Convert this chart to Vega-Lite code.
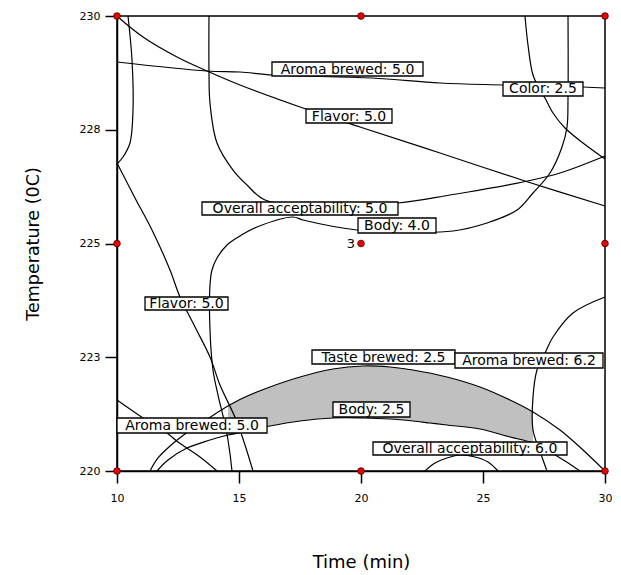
{
  "$schema": "https://vega.github.io/schema/vega-lite/v6.json",
  "width": 488,
  "height": 455,
  "autosize": "none",
  "padding": {"left": 117, "top": 16, "right": 16, "bottom": 104},
  "background": "white",
  "config": {
    "view": {"stroke": "black", "strokeWidth": 1.5},
    "axis": {
      "grid": false, "domainColor": "black", "domainWidth": 1.5,
      "tickColor": "black", "tickWidth": 1.5, "tickSize": 12,
      "labelColor": "black", "labelFont": "DejaVu Sans", "labelFontSize": 11,
      "titleFont": "DejaVu Sans", "titleFontWeight": "normal", "titleColor": "black",
      "labelFlush": false, "labelOverlap": false
    }
  },
  "datasets": {
    "lines": [
      {"c":"A","i":0,"t":10.041,"T":229.978},{"c":"A","i":1,"t":11.066,"T":229.538},{"c":"A","i":2,"t":12.459,"T":229.099},{"c":"A","i":3,"t":13.689,"T":228.791},{"c":"A","i":4,"t":15.041,"T":228.484},{"c":"A","i":5,"t":17.623,"T":227.978},{"c":"A","i":6,"t":19.959,"T":227.56},{"c":"A","i":7,"t":23.238,"T":226.989},{"c":"A","i":8,"t":26.844,"T":226.352},{"c":"A","i":9,"t":30,"T":225.824},
      {"c":"B","i":0,"t":10,"T":228.989},{"c":"B","i":1,"t":13.689,"T":228.791},{"c":"B","i":2,"t":15.041,"T":228.769},{"c":"B","i":3,"t":16.393,"T":228.703},{"c":"B","i":4,"t":20.451,"T":228.637},{"c":"B","i":5,"t":23.238,"T":228.527},{"c":"B","i":6,"t":25.82,"T":228.484},{"c":"B","i":7,"t":29.098,"T":228.44},{"c":"B","i":8,"t":30,"T":228.418},
      {"c":"C","i":0,"t":10.451,"T":230},{"c":"C","i":1,"t":10.615,"T":229.033},{"c":"C","i":2,"t":10.656,"T":227.934},{"c":"C","i":3,"t":10.533,"T":227.209},{"c":"C","i":4,"t":10.246,"T":226.901},{"c":"C","i":5,"t":10,"T":226.747},
      {"c":"D","i":0,"t":10,"T":226.769},{"c":"D","i":1,"t":10.738,"T":226.0},{"c":"D","i":2,"t":11.434,"T":225.297},{"c":"D","i":3,"t":12.172,"T":224.418},{"c":"D","i":4,"t":12.582,"T":223.824},{"c":"D","i":5,"t":13.197,"T":223.165},{"c":"D","i":6,"t":13.811,"T":222.505},{"c":"D","i":7,"t":14.221,"T":221.89},{"c":"D","i":8,"t":14.918,"T":221.077},{"c":"D","i":9,"t":15.574,"T":220},
      {"c":"E","i":0,"t":13.77,"T":230},{"c":"E","i":1,"t":13.77,"T":228.791},{"c":"E","i":2,"t":13.811,"T":228.088},{"c":"E","i":3,"t":14.098,"T":227.209},{"c":"E","i":4,"t":14.754,"T":226.615},{"c":"E","i":5,"t":15.328,"T":226.286},{"c":"E","i":6,"t":16.066,"T":225.956},{"c":"E","i":7,"t":18.73,"T":225.824},{"c":"E","i":8,"t":21.516,"T":225.89},{"c":"E","i":9,"t":23.648,"T":226.066},{"c":"E","i":10,"t":26.639,"T":226.352},{"c":"E","i":11,"t":28.156,"T":226.549},{"c":"E","i":12,"t":30,"T":226.923},
      {"c":"F","i":0,"t":28.484,"T":230},{"c":"F","i":1,"t":28.484,"T":228.22},{"c":"F","i":2,"t":28.443,"T":227.56},{"c":"F","i":3,"t":28.238,"T":227.121},{"c":"F","i":4,"t":27.746,"T":226.549},{"c":"F","i":5,"t":27.049,"T":226.11},{"c":"F","i":6,"t":26.393,"T":225.736},{"c":"F","i":7,"t":25.164,"T":225.451},{"c":"F","i":8,"t":23.77,"T":225.275},{"c":"F","i":9,"t":21.598,"T":225.253},{"c":"F","i":10,"t":19.836,"T":225.297},{"c":"F","i":11,"t":17.623,"T":225.516},{"c":"F","i":12,"t":17.213,"T":225.582},{"c":"F","i":13,"t":15.738,"T":225.363},{"c":"F","i":14,"t":15.041,"T":225.165},{"c":"F","i":15,"t":14.508,"T":224.967},{"c":"F","i":16,"t":14.098,"T":224.681},{"c":"F","i":17,"t":13.893,"T":224.418},{"c":"F","i":18,"t":13.811,"T":224.088},{"c":"F","i":19,"t":13.811,"T":223.099},{"c":"F","i":20,"t":13.934,"T":222.22},{"c":"F","i":21,"t":14.139,"T":221.67},{"c":"F","i":22,"t":14.385,"T":221.121},{"c":"F","i":23,"t":14.549,"T":220.681},{"c":"F","i":24,"t":14.713,"T":220},
      {"c":"G","i":0,"t":26.721,"T":230},{"c":"G","i":1,"t":26.844,"T":229.363},{"c":"G","i":2,"t":27.049,"T":228.703},{"c":"G","i":3,"t":27.336,"T":228.374},{"c":"G","i":4,"t":27.541,"T":228.198},{"c":"G","i":5,"t":27.869,"T":227.868},{"c":"G","i":6,"t":28.361,"T":227.538},{"c":"G","i":7,"t":29.098,"T":227.209},{"c":"G","i":8,"t":30,"T":226.857},
      {"c":"H","i":0,"t":11.352,"T":220},{"c":"H","i":1,"t":11.68,"T":220.286},{"c":"H","i":2,"t":12.172,"T":220.549},{"c":"H","i":3,"t":12.787,"T":220.813},{"c":"H","i":4,"t":13.402,"T":221.033},{"c":"H","i":5,"t":14.016,"T":221.253},{"c":"H","i":6,"t":14.549,"T":221.429},{"c":"H","i":7,"t":15.164,"T":221.604},{"c":"H","i":8,"t":16.27,"T":221.846},{"c":"H","i":9,"t":17.5,"T":222.066},{"c":"H","i":10,"t":18.852,"T":222.242},{"c":"H","i":11,"t":20.082,"T":222.308},{"c":"H","i":12,"t":21.189,"T":222.286},{"c":"H","i":13,"t":22.131,"T":222.22},{"c":"H","i":14,"t":23.525,"T":222.066},{"c":"H","i":15,"t":24.877,"T":221.846},{"c":"H","i":16,"t":26.107,"T":221.56},{"c":"H","i":17,"t":27.049,"T":221.297},{"c":"H","i":18,"t":28.156,"T":220.901},{"c":"H","i":19,"t":29.098,"T":220.462},{"c":"H","i":20,"t":30,"T":220},
      {"c":"I","i":0,"t":11.639,"T":220},{"c":"I","i":1,"t":12.09,"T":220.242},{"c":"I","i":2,"t":12.869,"T":220.505},{"c":"I","i":3,"t":13.811,"T":220.681},{"c":"I","i":4,"t":14.549,"T":220.791},{"c":"I","i":5,"t":15.164,"T":220.857},{"c":"I","i":6,"t":16.27,"T":220.989},{"c":"I","i":7,"t":17.5,"T":221.099},{"c":"I","i":8,"t":18.852,"T":221.165},{"c":"I","i":9,"t":20.082,"T":221.165},{"c":"I","i":10,"t":21.189,"T":221.143},{"c":"I","i":11,"t":22.131,"T":221.099},{"c":"I","i":12,"t":22.828,"T":221.055},{"c":"I","i":13,"t":23.525,"T":221.011},{"c":"I","i":14,"t":24.877,"T":220.923},{"c":"I","i":15,"t":26.107,"T":220.747},{"c":"I","i":16,"t":27.049,"T":220.615},{"c":"I","i":17,"t":27.746,"T":220.418},{"c":"I","i":18,"t":28.361,"T":220.22},{"c":"I","i":19,"t":28.975,"T":220},
      {"c":"J","i":0,"t":30,"T":223.824},{"c":"J","i":1,"t":28.689,"T":223.473},{"c":"J","i":2,"t":27.869,"T":222.945},{"c":"J","i":3,"t":27.541,"T":222.593},{"c":"J","i":4,"t":27.213,"T":222.22},{"c":"J","i":5,"t":27.049,"T":221.626},{"c":"J","i":6,"t":27.049,"T":220.901},{"c":"J","i":7,"t":27.418,"T":220.308},{"c":"J","i":8,"t":27.623,"T":220},
      {"c":"K","i":0,"t":10,"T":221.56},{"c":"K","i":1,"t":11.066,"T":221.165},{"c":"K","i":2,"t":12.049,"T":220.835},{"c":"K","i":3,"t":12.5,"T":220.637},{"c":"K","i":4,"t":13.402,"T":220.308},{"c":"K","i":5,"t":14.098,"T":220},
      {"c":"L","i":0,"t":22.623,"T":220},{"c":"L","i":1,"t":23.033,"T":220.176},{"c":"L","i":2,"t":23.525,"T":220.286},{"c":"L","i":3,"t":24.057,"T":220.352},{"c":"L","i":4,"t":24.672,"T":220.308},{"c":"L","i":5,"t":25.205,"T":220.198},{"c":"L","i":6,"t":25.615,"T":220}
    ],
    "gray": [
      {"t":14.549,"top":221.429,"bot":220.791},{"t":15.164,"top":221.604,"bot":220.857},{"t":16.27,"top":221.846,"bot":220.989},{"t":17.5,"top":222.066,"bot":221.099},{"t":18.852,"top":222.242,"bot":221.165},{"t":20.082,"top":222.308,"bot":221.165},{"t":21.189,"top":222.286,"bot":221.143},{"t":22.131,"top":222.22,"bot":221.099},{"t":23.525,"top":222.066,"bot":221.011},{"t":24.877,"top":221.846,"bot":220.923},{"t":26.107,"top":221.56,"bot":220.747},{"t":27.049,"top":221.297,"bot":220.615}
    ],
    "labels": [
      {"label":"Aroma brewed: 5.0","x1":16.352,"x2":22.541,"y1":228.681,"y2":228.989,"tx":19.447,"ty":228.835},
      {"label":"Color: 2.5","x1":25.82,"x2":29.098,"y1":228.242,"y2":228.549,"tx":27.459,"ty":228.396},
      {"label":"Flavor: 5.0","x1":17.746,"x2":21.27,"y1":227.648,"y2":227.956,"tx":19.508,"ty":227.802},
      {"label":"Overall acceptability: 5.0","x1":13.484,"x2":21.516,"y1":225.626,"y2":225.912,"tx":17.5,"ty":225.769},
      {"label":"Body: 4.0","x1":19.877,"x2":23.074,"y1":225.231,"y2":225.56,"tx":21.475,"ty":225.396},
      {"label":"Flavor: 5.0","x1":11.148,"x2":14.549,"y1":223.538,"y2":223.824,"tx":12.848,"ty":223.681},
      {"label":"Taste brewed: 2.5","x1":17.992,"x2":23.852,"y1":222.352,"y2":222.659,"tx":20.922,"ty":222.505},
      {"label":"Aroma brewed: 6.2","x1":23.852,"x2":29.918,"y1":222.264,"y2":222.593,"tx":26.885,"ty":222.429},
      {"label":"Body: 2.5","x1":18.852,"x2":22.008,"y1":221.187,"y2":221.516,"tx":20.43,"ty":221.352},
      {"label":"Aroma brewed: 5.0","x1":10.0,"x2":16.148,"y1":220.835,"y2":221.165,"tx":13.074,"ty":221.0},
      {"label":"Overall acceptability: 6.0","x1":20.492,"x2":28.443,"y1":220.352,"y2":220.637,"tx":24.467,"ty":220.495}
    ],
    "pts": [
      {"t":10,"T":220},{"t":20,"T":220},{"t":30,"T":220},
      {"t":10,"T":225},{"t":20,"T":225,"n":"3"},{"t":30,"T":225},
      {"t":10,"T":230},{"t":20,"T":230},{"t":30,"T":230}
    ]
  },
  "layer": [
    {
      "data": {"name": "gray"},
      "mark": {"type": "area", "color": "#c0c0c0", "interpolate": "monotone"},
      "encoding": {
        "x": {"field": "t", "type": "quantitative", "scale": {"domain": [10, 30], "nice": false, "zero": false},
              "axis": {"values": [10, 15, 20, 25, 30], "title": "Time (min)", "titleFontSize": 18, "titlePadding": 50, "labelPadding": 9}},
        "y": {"field": "top", "type": "quantitative", "scale": {"domain": [220, 230], "nice": false, "zero": false},
              "axis": {"values": [220, 222.5, 225, 227.5, 230], "labelExpr": "'' + round(datum.value)", "title": "Temperature (0C)", "titleFontSize": 17.5, "titlePadding": 37, "labelPadding": 5}},
        "y2": {"field": "bot"}
      }
    },
    {
      "data": {"name": "lines"},
      "mark": {"type": "line", "color": "black", "strokeWidth": 1.2, "interpolate": "catmull-rom"},
      "encoding": {
        "x": {"field": "t", "type": "quantitative", "title": "Time (min)", "scale": {"domain": [10, 30], "nice": false, "zero": false}},
        "y": {"field": "T", "type": "quantitative", "title": "Temperature (0C)", "scale": {"domain": [220, 230], "nice": false, "zero": false}},
        "detail": {"field": "c"},
        "order": {"field": "i", "type": "quantitative"}
      }
    },
    {
      "data": {"name": "labels"},
      "mark": {"type": "rect", "fill": "white", "stroke": "black", "strokeWidth": 1.3},
      "encoding": {
        "x": {"field": "x1", "type": "quantitative", "title": "Time (min)"},
        "x2": {"field": "x2"},
        "y": {"field": "y1", "type": "quantitative", "title": "Temperature (0C)"},
        "y2": {"field": "y2"}
      }
    },
    {
      "data": {"name": "labels"},
      "mark": {"type": "text", "font": "DejaVu Sans", "fontSize": 14, "color": "black", "align": "center", "baseline": "middle", "dy": 0.5},
      "encoding": {
        "x": {"field": "tx", "type": "quantitative", "title": "Time (min)"},
        "y": {"field": "ty", "type": "quantitative", "title": "Temperature (0C)"},
        "text": {"field": "label"}
      }
    },
    {
      "data": {"name": "pts"},
      "mark": {"type": "point", "shape": "circle", "filled": true, "size": 45, "color": "#ee0000", "stroke": "#400000", "strokeWidth": 0.8, "opacity": 1},
      "encoding": {
        "x": {"field": "t", "type": "quantitative", "title": "Time (min)"},
        "y": {"field": "T", "type": "quantitative", "title": "Temperature (0C)"}
      }
    },
    {
      "data": {"name": "pts"},
      "transform": [{"filter": "datum.n"}],
      "mark": {"type": "text", "font": "DejaVu Sans", "fontSize": 13, "color": "black", "align": "right", "baseline": "middle", "dx": -6},
      "encoding": {
        "x": {"field": "t", "type": "quantitative", "title": "Time (min)"},
        "y": {"field": "T", "type": "quantitative", "title": "Temperature (0C)"},
        "text": {"field": "n"}
      }
    }
  ]
}
